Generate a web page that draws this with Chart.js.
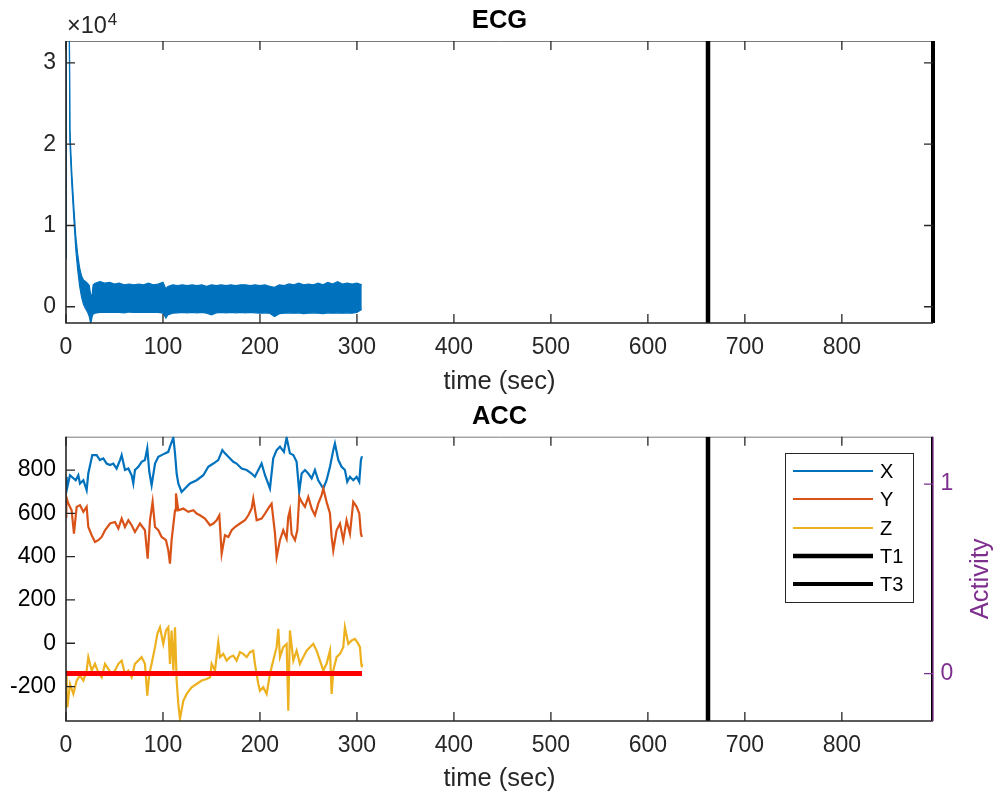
<!DOCTYPE html>
<html>
<head>
  <meta charset="UTF-8">
  <title>ECG / ACC</title>
  <script src="https://cdn.jsdelivr.net/npm/chart.js"></script>
  <style>
    body { margin: 0; background: #fff; }
    #contenedor { position: relative; width: 996px; height: 799px; }
    canvas { position: absolute; left: 0; }
  </style>
</head>
<body>
  <div id="contenedor">
    <canvas id="ecg" width="996" height="400" style="top:0"></canvas>
    <canvas id="acc" width="996" height="399" style="top:400px"></canvas>
  </div>
  <script>
    // Marcadores de tiempo (seg)
    const tiempoT1 = 662;
    const tiempoT3 = 894;
    const tiempoMax = 894;

    // Etiquetas de los ejes
    const ticksTiempo = [0, 100, 200, 300, 400, 500, 600, 700, 800];
    const ticksEcg = [0, 10000, 20000, 30000];
    const ticksAcc = [-200, 0, 200, 400, 600, 800];
    const ticksActividad = [0, 1];

    // ECG: envolvente superior e inferior de la senal (banda densa)
    const ecgTiempo = [0, 0.3, 3, 4, 5, 6, 8, 10, 12, 14, 16, 18, 20, 22, 24, 25.5, 27, 28,
      30, 35, 40, 45, 50, 55, 60, 65, 70, 75, 80, 85, 90, 95, 100, 103,
      105, 110, 115, 120, 125, 130, 135, 140, 145, 150, 155, 160, 165, 170, 175, 180, 185, 190, 195, 200,
      205, 210, 215, 220, 225, 230, 235, 240, 245, 250, 255, 260, 265, 270, 275, 280, 285, 290, 295, 300, 305];
    const ecgSuperior = [6000, 45000, 45000, 22000, 19000, 16500, 12500, 8800, 6500, 4800, 3800, 3300, 3100, 2900, 2600, 1400, 1500, 2700,
      2900, 3100, 2900, 3000, 2800, 2900, 2700, 2800, 2700, 2800, 2700, 2900, 2700, 2800, 3000, 2200,
      2500, 2700, 2600, 2700, 2600, 2700, 2600, 2700, 2500, 2700, 2600, 2700, 2600, 2700, 2600, 2700, 2700, 2600, 2700, 2600,
      2700, 2500, 2400, 2700, 2600, 2800, 2700, 2900, 2700, 2800, 2700, 2900, 2700, 3000, 2800, 3100, 2800, 2900, 2800, 2900, 2700];
    const ecgInferior = [6000, 45000, 45000, 20500, 17500, 15000, 11000, 7200, 4600, 2600, 1200, 300, -200, -600, -1200, -2100, -1200, -900,
      -800, -700, -650, -700, -650, -700, -750, -650, -700, -650, -700, -700, -650, -700, -800, -1400,
      -1000, -800, -750, -700, -750, -700, -750, -700, -800, -1000, -750, -700, -750, -700, -750, -700, -750, -700, -750, -800,
      -750, -800, -1200, -850, -800, -750, -800, -750, -850, -800, -750, -800, -850, -750, -800, -750, -800, -750, -800, -700, -300];

    // ACC eje X
    const accXTiempo = [0, 0.7, 4.1, 10, 12.7, 14.4, 17.9, 21.3, 23, 27.1, 31.6, 35, 38.5, 41.9, 45.4, 48.8, 52.2, 55.7, 57.4, 60.8,
      64.3, 67.7, 69.4, 71.1, 74.6, 78, 81.4, 83.8, 85.9, 88.3, 91.8, 95.2, 98.6, 102, 105.5, 107.2, 110.7, 112.4, 114.1, 115.8,
      119.2, 122.7, 127.8, 134.7, 141.6, 146.7, 151.9, 157, 161.2, 163.9, 167.4, 172.5, 175.9, 181.1, 186.3, 191.4, 194.8, 198.3, 201.7, 205.2,
      210.3, 213.7, 217.2, 220.6, 224.7, 227.5, 230.9, 234.4, 237.8, 240.5, 243, 246.4, 249.8, 253.3, 256.7, 260.1, 265.3, 268.7, 272.2, 275.6,
      277.3, 280.8, 284.2, 287.6, 290, 292.8, 296.2, 299.7, 302.4, 304.1, 305.2];
    const accX = [769, 707, 776, 753, 776, 738, 753, 707, 784, 869, 869, 846, 854, 830, 823, 830, 807, 846, 869, 800,
      807, 776, 738, 800, 815, 838, 846, 900, 792, 730, 830, 861, 869, 877, 884, 908, 950, 877, 784, 738,
      699, 715, 738, 753, 776, 815, 830, 846, 892, 877, 861, 838, 830, 807, 800, 784, 769, 800, 830, 776,
      715, 854, 892, 908, 884, 950, 877, 869, 838, 699, 784, 800, 784, 761, 800, 753, 715, 753, 815, 892,
      923, 846, 815, 800, 746, 769, 753, 769, 746, 846, 864];

    // ACC eje Y
    const accYTiempo = [0, 0.3, 2.4, 5.8, 8.2, 11, 14.4, 17.9, 21.3, 23, 26.5, 29.9, 33.3, 36.8, 40.2, 45.4, 50.5, 54, 57.4, 60.8,
      64.3, 67.7, 71.1, 76.3, 81.4, 84.2, 86.6, 89.3, 91.8, 95.2, 98.6, 103.1, 105.5, 107.2, 108.9, 112.4, 113.4, 115.8, 121, 126.1,
      131.3, 134.7, 138.1, 143.3, 148.5, 151.9, 155.3, 158.1, 160.5, 163.9, 167.4, 170.8, 174.2, 179.4, 184.5, 188, 191.4, 193.1, 196.6, 201.7,
      205.2, 209.6, 212, 215.5, 217.2, 220.6, 224, 227.5, 229.2, 230.9, 232.6, 236.1, 238.5, 240.5, 243, 246.4, 249.8, 253.3, 256.7, 260.1,
      263.6, 265.3, 268.7, 272.2, 273.9, 275.6, 279, 282.5, 285.9, 289.3, 292.8, 296.2, 299.7, 302.4, 304.1, 305.2];
    const accY = [584, 676, 645, 614, 506, 630, 638, 607, 630, 537, 499, 468, 476, 491, 522, 553, 560, 530, 576, 537,
      568, 545, 514, 553, 522, 391, 568, 653, 537, 522, 491, 476, 429, 368, 476, 614, 692, 614, 622, 607,
      614, 599, 591, 576, 545, 553, 568, 591, 414, 499, 491, 522, 537, 553, 568, 591, 622, 668, 568, 576,
      599, 630, 645, 506, 398, 476, 522, 483, 584, 614, 506, 476, 522, 676, 653, 630, 676, 622, 591, 645,
      684, 715, 653, 599, 491, 429, 522, 553, 476, 568, 506, 653, 630, 599, 506, 491];

    // ACC eje Z
    const accZTiempo = [0, 0.7, 1.4, 4.1, 7.6, 11, 14.4, 17.9, 21.3, 23, 26.5, 29.9, 33.3, 36.8, 40.2, 43.6, 47.1, 50.5, 54, 57.4,
      60.8, 64.3, 67.7, 71.1, 74.6, 78, 81.4, 83.8, 85.9, 88.3, 91.8, 94.2, 96.9, 100.3, 103.1, 105.5, 107.2, 108.9, 110.7, 112.4,
      114.1, 115.8, 117.5, 121, 124.4, 129.6, 134.7, 139.9, 145, 148.5, 150.2, 153.6, 157, 158.8, 162.2, 165.6, 169.1, 172.5, 175.9, 179.4,
      182.8, 186.3, 189.7, 193.1, 194.8, 198.3, 200, 203.4, 206.9, 210.3, 213.7, 217.2, 218.9, 220.6, 224, 227.5, 229.2, 230.9, 234.4, 237.8,
      241.2, 244.7, 248.1, 251.5, 255, 258.4, 261.9, 265.3, 268.7, 272.2, 273.9, 275.6, 279, 282.5, 285.9, 287.6, 291.1, 294.5, 297.9, 301.4,
      303.1, 304.5, 305.2];
    const accZ = [-126, -250, -296, -188, -234, -172, -149, -172, -126, -64, -126, -95, -134, -157, -95, -118, -142, -126, -95, -80,
      -142, -126, -157, -95, -80, -64, -95, -242, -142, -95, -18, 44, 74, -3, 59, 74, -95, 59, -126, 74,
      -172, -280, -350, -265, -234, -203, -188, -172, -165, -157, -95, -126, 5, -64, -49, -80, -64, -57, -80, -41,
      -49, -64, -41, -34, -95, -188, -219, -203, -234, -142, -80, -18, 67, -64, -18, -3, -311, 59, -80, -34,
      -95, -64, -34, -18, -3, -34, -80, -126, -95, -34, -234, -126, -64, -49, -18, 74, -3, 13, 20, -3,
      -18, -95, -111];

    // Actividad (eje derecho)
    const actTiempo = [0, 305.2];
    const actividad = [0, 0];

    Chart.defaults.font.family = "'Liberation Sans', Arial, Helvetica, sans-serif";
    Chart.defaults.color = '#262626';
    const colorEjes = '#262626';
    const morado = '#7E2F8E';

    function puntos(xs, ys) {
      return xs.map((x, i) => ({ x: x, y: ys[i] }));
    }
    function lineaVertical(t, ymin, ymax) {
      return [{ x: t, y: ymin }, { x: t, y: ymax }];
    }
    // fija los ticks de un eje a partir de una lista
    function fijarTicks(lista) {
      return (s) => { s.ticks = lista.map(v => ({ value: v })); };
    }

    // Caja, ticks hacia dentro y textos extra estilo MATLAB
    const ejesMatlab = {
      id: 'ejesMatlab',
      beforeDatasetsDraw(chart) {
        const { ctx, chartArea: a } = chart;
        ctx.save();
        ctx.strokeStyle = '#7a7a7a';
        ctx.lineWidth = 1;
        ctx.beginPath();
        ctx.moveTo(a.left, a.top + 0.5);
        ctx.lineTo(a.right, a.top + 0.5);
        ctx.moveTo(a.right - 0.5, a.top);
        ctx.lineTo(a.right - 0.5, a.bottom);
        ctx.stroke();
        ctx.restore();
      },
      afterDatasetsDraw(chart, args, opts) {
        const { ctx, chartArea: a, scales } = chart;
        const tl = 9;
        ctx.save();
        ctx.strokeStyle = colorEjes;
        ctx.lineWidth = 1.3;
        ctx.beginPath();
        scales.x.ticks.forEach(t => {
          const px = scales.x.getPixelForValue(t.value);
          ctx.moveTo(px, a.bottom); ctx.lineTo(px, a.bottom - tl);
          ctx.moveTo(px, a.top); ctx.lineTo(px, a.top + tl);
        });
        scales.y.ticks.forEach(t => {
          const py = scales.y.getPixelForValue(t.value);
          ctx.moveTo(a.left, py); ctx.lineTo(a.left + tl, py);
          if (!scales.y2) { ctx.moveTo(a.right, py); ctx.lineTo(a.right - tl, py); }
        });
        ctx.stroke();
        ctx.lineWidth = 1.6;
        ctx.beginPath();
        ctx.moveTo(a.left, a.top);
        ctx.lineTo(a.left, a.bottom);
        ctx.lineTo(a.right, a.bottom);
        ctx.stroke();

        if (scales.y2) {
          ctx.strokeStyle = morado;
          ctx.lineWidth = 1.3;
          ctx.beginPath();
          scales.y2.ticks.forEach(t => {
            const py = scales.y2.getPixelForValue(t.value);
            ctx.moveTo(a.right, py); ctx.lineTo(a.right - tl, py);
          });
          ctx.moveTo(a.right, a.top); ctx.lineTo(a.right, a.bottom);
          ctx.stroke();
        }

        // multiplicador x10^4
        if (opts.exponente) {
          ctx.fillStyle = colorEjes;
          ctx.textBaseline = 'alphabetic';
          ctx.textAlign = 'left';
          ctx.font = "23.5px 'Liberation Sans', Arial, sans-serif";
          const base = '\u00d710';
          ctx.fillText(base, a.left + 1, a.top - 8);
          const w = ctx.measureText(base).width;
          ctx.font = "17px 'Liberation Sans', Arial, sans-serif";
          ctx.fillText(opts.exponente, a.left + 2 + w, a.top - 16);
        }

        // titulo del eje derecho
        if (opts.etiquetaDerecha) {
          ctx.save();
          ctx.fillStyle = morado;
          ctx.font = "25.5px 'Liberation Sans', Arial, sans-serif";
          ctx.textAlign = 'center';
          ctx.textBaseline = 'middle';
          ctx.translate(a.right + 48, (a.top + a.bottom) / 2);
          ctx.rotate(-Math.PI / 2);
          ctx.fillText(opts.etiquetaDerecha, 0, 0);
          ctx.restore();
        }

        // leyenda dentro del area
        if (opts.leyenda) {
          const items = chart.data.datasets.filter(d => opts.leyenda.includes(d.label));
          const x0 = a.right - 148, y0 = a.top + 16.3, w = 128, h = 149;
          ctx.fillStyle = '#fff';
          ctx.fillRect(x0, y0, w, h);
          ctx.strokeStyle = colorEjes;
          ctx.lineWidth = 1;
          ctx.strokeRect(x0 + 0.5, y0 + 0.5, w, h);
          ctx.font = "20px 'Liberation Sans', Arial, sans-serif";
          ctx.textAlign = 'left';
          ctx.textBaseline = 'middle';
          items.forEach((d, i) => {
            const yy = Math.round(y0 + 17.7 + i * 28.4);
            ctx.strokeStyle = d.borderColor;
            ctx.lineWidth = d.borderWidth > 3 ? d.borderWidth : 2;
            ctx.beginPath();
            ctx.moveTo(x0 + 8, yy); ctx.lineTo(x0 + 88, yy);
            ctx.stroke();
            ctx.fillStyle = '#000';
            ctx.fillText(d.label, x0 + 95, yy + 1);
          });
        }
        ctx.restore();
      }
    };

    const ejeX = (alto) => ({
      type: 'linear', min: 0, max: tiempoMax,
      grid: { display: false, drawTicks: false }, border: { display: false },
      afterBuildTicks: fijarTicks(ticksTiempo),
      ticks: { maxRotation: 0, autoSkip: false, padding: 11, color: colorEjes, font: { size: 23 } },
      title: { display: true, text: 'time (sec)', color: colorEjes, font: { size: 25.5 }, padding: { top: 0, bottom: 0 } },
      afterFit: (s) => { s.height = alto; }
    });

    // Grafica ECG
    const ecgMin = -2000, ecgMax = 32700;
    new Chart(document.getElementById('ecg'), {
      type: 'line',
      data: {
        datasets: [
          { label: 'ECG', data: puntos(ecgTiempo, ecgSuperior), borderColor: '#0072BD', backgroundColor: '#0072BD', borderWidth: 1.2, fill: '+1', order: 3 },
          { label: 'ECG inf', data: puntos(ecgTiempo, ecgInferior), borderColor: '#0072BD', borderWidth: 1.2, fill: false, order: 3 },
          { label: 'T1', data: lineaVertical(tiempoT1, ecgMin, ecgMax), borderColor: '#000', borderWidth: 4.5, order: 1 },
          { label: 'T3', data: lineaVertical(tiempoT3, ecgMin, ecgMax), borderColor: '#000', borderWidth: 4, clip: false, order: 1 }
        ]
      },
      options: {
        responsive: false, animation: false, events: [],
        elements: { point: { radius: 0 }, line: { tension: 0 } },
        layout: { padding: { left: 0, right: 63, top: 0, bottom: 2.7 } },
        scales: {
          x: ejeX(74.3),
          y: {
            min: ecgMin, max: ecgMax,
            grid: { display: false, drawTicks: false }, border: { display: false },
            afterBuildTicks: fijarTicks(ticksEcg),
            ticks: { autoSkip: false, padding: 10, color: colorEjes, font: { size: 23 }, callback: v => String(v / 10000) },
            afterFit: (s) => { s.width = 66; }
          }
        },
        plugins: {
          legend: { display: false },
          tooltip: { enabled: false },
          title: { display: true, text: 'ECG', fullSize: false, color: '#000', font: { size: 25.5, weight: 'bold' }, padding: { top: 5.2, bottom: 5.2 } },
          ejesMatlab: { exponente: '4' }
        }
      },
      plugins: [ejesMatlab]
    });

    // Grafica ACC
    const accMin = -359, accMax = 954;
    new Chart(document.getElementById('acc'), {
      type: 'line',
      data: {
        datasets: [
          { label: 'X', data: puntos(accXTiempo, accX), borderColor: '#0072BD', borderWidth: 2.2, order: 5 },
          { label: 'Y', data: puntos(accYTiempo, accY), borderColor: '#D95319', borderWidth: 2.2, order: 4 },
          { label: 'Z', data: puntos(accZTiempo, accZ), borderColor: '#EDB120', borderWidth: 2.2, order: 3 },
          { label: 'T1', data: lineaVertical(tiempoT1, accMin, accMax), borderColor: '#000', borderWidth: 4.5, order: 2 },
          { label: 'T3', data: lineaVertical(tiempoT3, accMin, accMax), borderColor: '#000', borderWidth: 4, order: 2 },
          { label: 'Activity', data: puntos(actTiempo, actividad), yAxisID: 'y2', borderColor: '#FF0000', borderWidth: 5, order: 1 }
        ]
      },
      options: {
        responsive: false, animation: false, events: [],
        elements: { point: { radius: 0 }, line: { tension: 0 } },
        layout: { padding: { left: 0, right: 0, top: 0, bottom: 4.7 } },
        scales: {
          x: ejeX(73.3),
          y: {
            min: accMin, max: accMax,
            grid: { display: false, drawTicks: false }, border: { display: false },
            afterBuildTicks: fijarTicks(ticksAcc),
            ticks: { autoSkip: false, padding: 10, color: '#000', font: { size: 23 }, callback: v => String(v) },
            afterFit: (s) => { s.width = 66; }
          },
          y2: {
            position: 'right', min: -0.25, max: 1.25,
            grid: { display: false, drawTicks: false }, border: { display: false },
            afterBuildTicks: fijarTicks(ticksActividad),
            ticks: { autoSkip: false, padding: 7.5, color: morado, font: { size: 23 }, callback: v => String(v) },
            afterFit: (s) => { s.width = 63; }
          }
        },
        plugins: {
          legend: { display: false },
          tooltip: { enabled: false },
          title: { display: true, text: 'ACC', fullSize: false, color: '#000', font: { size: 25.5, weight: 'bold' }, padding: { top: 2, bottom: 4.1 } },
          ejesMatlab: { etiquetaDerecha: 'Activity', leyenda: ['X', 'Y', 'Z', 'T1', 'T3'] }
        }
      },
      plugins: [ejesMatlab]
    });
  </script>
</body>
</html>
